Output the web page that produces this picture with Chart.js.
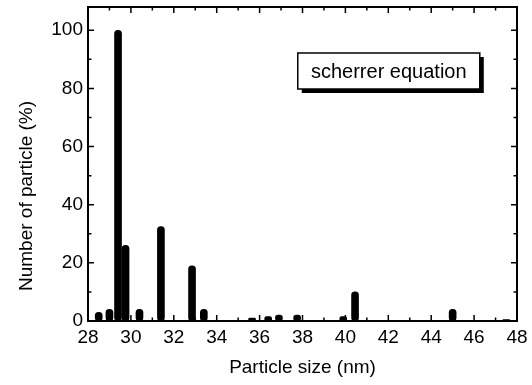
<!DOCTYPE html>
<html>
<head>
<meta charset="utf-8">
<script src="https://cdn.jsdelivr.net/npm/chart.js@4/dist/chart.umd.min.js"></script>
<style>
  html, body { margin: 0; padding: 0; background: #fff; }
  #wrap { width: 532px; height: 385px; }
</style>
</head>
<body>
<div id="wrap"><canvas id="myChart"></canvas></div>
<script>
// particle size (nm) and share of particles (%)
const sizes  = [28.5, 29.0, 29.4, 29.75, 30.4, 31.4, 32.85, 33.4, 35.65, 36.4, 36.9, 37.75, 39.9, 40.45, 45.0, 47.5];
const counts = [3, 4, 100, 26, 4, 32.5, 19, 4, 1, 1.5, 2, 2, 1.5, 10, 4, 0.5];
const xTicks = [28, 30, 32, 34, 36, 38, 40, 42, 44, 46, 48];
const yTicks = [0, 20, 40, 60, 80, 100];
const legendText = 'scherrer equation';
const yTitle = 'Number of particle (%)';

const FONT = 'Arial, "Liberation Sans", Helvetica, sans-serif';

// frame, inward tick marks, y title and the boxed label
const framePlugin = {
  id: 'frame',
  afterDraw(chart) {
    const {ctx, chartArea: a, scales: {x, y}} = chart;
    ctx.save();
    ctx.strokeStyle = '#000';
    ctx.lineWidth = 2;
    ctx.strokeRect(a.left, a.top, a.right - a.left, a.bottom - a.top);

    ctx.lineWidth = 1.5;
    ctx.beginPath();
    for (let v = xTicks[0]; v <= xTicks[xTicks.length - 1]; v += 1) {
      const px = x.getPixelForValue(v);
      const len = xTicks.includes(v) ? 6 : 3.5;
      ctx.moveTo(px, a.bottom); ctx.lineTo(px, a.bottom - len);
      ctx.moveTo(px, a.top); ctx.lineTo(px, a.top + len);
    }
    for (let v = 0; v <= 100; v += 10) {
      const py = y.getPixelForValue(v);
      const len = yTicks.includes(v) ? 6 : 3.5;
      ctx.moveTo(a.left, py); ctx.lineTo(a.left + len, py);
      ctx.moveTo(a.right, py); ctx.lineTo(a.right - len, py);
    }
    ctx.stroke();

    // y axis title, sits a bit below the middle in the original
    ctx.fillStyle = '#000';
    ctx.font = '19px ' + FONT;
    ctx.textAlign = 'center';
    ctx.textBaseline = 'middle';
    ctx.save();
    ctx.translate(27, y.getPixelForValue(43));
    ctx.rotate(-Math.PI / 2);
    ctx.fillText(yTitle, 0, 0);
    ctx.restore();

    // label box with drop shadow
    const bx = a.left + (a.right - a.left) * 0.489;
    const by = a.top + 46;
    const bw = 182, bh = 36;
    ctx.fillStyle = '#000';
    ctx.fillRect(bx + 4, by + 4, bw, bh);
    ctx.fillStyle = '#fff';
    ctx.fillRect(bx, by, bw, bh);
    ctx.lineWidth = 1.5;
    ctx.strokeRect(bx, by, bw, bh);
    ctx.fillStyle = '#000';
    ctx.font = '20px ' + FONT;
    ctx.fillText(legendText, bx + bw / 2, by + bh / 2 + 1);
    ctx.restore();
  }
};

const ctx = document.getElementById('myChart');
const myChart = new Chart(ctx, {
  type: 'bar',
  data: {
    datasets: [{
      data: sizes.map((s, i) => ({x: s, y: counts[i]})),
      backgroundColor: '#000',
      borderColor: '#000',
      borderWidth: 0,
      barThickness: 7,
      borderRadius: 3.5,
      borderSkipped: false
    }]
  },
  options: {
    responsive: true,
    maintainAspectRatio: false,
    animation: false,
    layout: { padding: { top: 7, right: 15, left: 0, bottom: 0 } },
    plugins: { legend: { display: false }, tooltip: { enabled: false } },
    scales: {
      x: {
        type: 'linear',
        min: 28,
        max: 48,
        offset: false,
        grid: { display: false, drawTicks: false },
        border: { display: false },
        afterBuildTicks: s => { s.ticks = xTicks.map(v => ({value: v})); },
        afterFit: s => { s.height = 64; s.paddingLeft = 0; s.paddingRight = 0; },
        ticks: {
          color: '#000',
          padding: 5,
          maxRotation: 0,
          autoSkip: false,
          font: { family: FONT, size: 19 }
        },
        title: {
          display: true,
          text: 'Particle size (nm)',
          color: '#000',
          font: { family: FONT, size: 19 },
          padding: { top: 0, bottom: 6 }
        }
      },
      y: {
        min: 0,
        max: 108,
        grid: { display: false, drawTicks: false },
        border: { display: false },
        afterBuildTicks: s => { s.ticks = yTicks.map(v => ({value: v})); },
        afterFit: s => { s.width = 88; s.paddingTop = 0; s.paddingBottom = 0; },
        ticks: {
          color: '#000',
          padding: 5,
          font: { family: FONT, size: 19 }
        },
        title: { display: false }
      }
    }
  },
  plugins: [framePlugin]
});
</script>
</body>
</html>
